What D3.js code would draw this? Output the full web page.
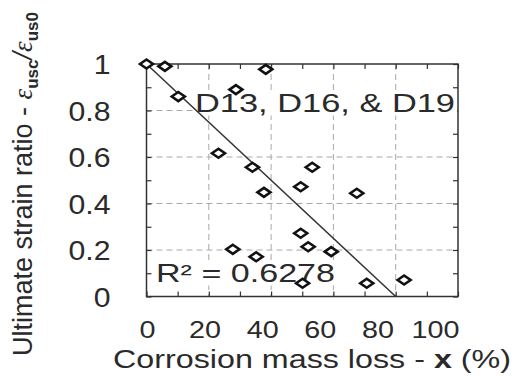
<!DOCTYPE html>
<html>
<head>
<meta charset="utf-8">
<script src="https://cdn.jsdelivr.net/npm/d3@7"></script>
<style>
  html, body { margin: 0; padding: 0; background: #fff; }
  svg { display: block; font-family: "Liberation Sans", Arial, sans-serif; }
</style>
</head>
<body>
<svg id="chart" width="517" height="376"></svg>
<script>
// ---- data ----
const massLoss = [0, 5.9, 38.3, 10.2, 28.7, 23.1, 34.0, 53.2, 49.5, 37.7, 67.5, 49.5, 51.9, 27.7, 35.2, 59.3, 50.1, 70.7, 82.7];
const strainRatio = [1.0, 0.99, 0.977, 0.86, 0.89, 0.616, 0.556, 0.556, 0.472, 0.448, 0.444, 0.272, 0.214, 0.203, 0.171, 0.193, 0.057, 0.057, 0.071];
const trendIntercept = 1.0;
const trendSlope = -0.0125;
const xTickLabels = [0, 20, 40, 60, 80, 100];
const yTickLabels = [0, 0.2, 0.4, 0.6, 0.8, 1];
const seriesLabel = "D13, D16, & D19";
const r2Label = "R\u00B2 = 0.6278";

// ---- layout ----
const svg = d3.select("#chart");
svg.append("rect").attr("width", 517).attr("height", 376).attr("fill", "#fff");
const x = d3.scaleLinear().domain([0, 100]).range([146.5, 458]);
const y = d3.scaleLinear().domain([0, 1]).range([296.5, 64]);
const xLab = d3.scaleLinear().domain([0, 100]).range([147, 435]);
const sx = 1.25;
const textColor = "#2a2a2a";

// grid
const grid = svg.append("g");
grid.selectAll("line.gx").data([20, 40, 60, 80]).join("line")
  .attr("x1", d => x(d)).attr("x2", d => x(d)).attr("y1", y(1)).attr("y2", y(0))
  .attr("stroke", "#a8a8a8").attr("stroke-width", 1).attr("stroke-dasharray", "6,4");
grid.selectAll("line.gy").data([0.2, 0.4, 0.6, 0.8]).join("line")
  .attr("y1", d => y(d)).attr("y2", d => y(d)).attr("x1", x(0)).attr("x2", x(100))
  .attr("stroke", "#a8a8a8").attr("stroke-width", 1).attr("stroke-dasharray", "6,4");

// inward minor ticks on all four sides
const xt = d3.range(0, 101, 10), yt = d3.range(0, 1.0001, 0.1);
function tickAxis(axis, transform) {
  const g = svg.append("g").attr("transform", transform).call(axis);
  g.select(".domain").remove();
  g.selectAll(".tick line").attr("stroke", "#333").attr("stroke-width", 1.2);
  g.selectAll("text").remove();
}
tickAxis(d3.axisBottom(x).tickValues(xt).tickSize(-5), `translate(0,${y(0)})`);
tickAxis(d3.axisTop(x).tickValues(xt).tickSize(-5), `translate(0,${y(1)})`);
tickAxis(d3.axisLeft(y).tickValues(yt).tickSize(-5), `translate(${x(0)},0)`);
tickAxis(d3.axisRight(y).tickValues(yt).tickSize(-5), `translate(${x(100)},0)`);

// frame
svg.append("rect").attr("x", x(0)).attr("y", y(1)).attr("width", x(100) - x(0)).attr("height", y(0) - y(1))
  .attr("fill", "none").attr("stroke", "#333").attr("stroke-width", 1.5);

// tick labels
const gx = svg.append("g").attr("transform", "translate(0,320)")
  .call(d3.axisBottom(xLab).tickValues(xTickLabels).tickSize(0).tickPadding(0).tickFormat(d3.format("d")));
gx.select(".domain").remove();
gx.selectAll("text").attr("font-size", 23).attr("fill", textColor).attr("font-family", "Liberation Sans, Arial, sans-serif")
  .attr("dy", "0.8em").attr("transform", `scale(${sx},1)`);

const gy = svg.append("g").attr("transform", `translate(${x(0)},0)`)
  .call(d3.axisLeft(y).tickValues(yTickLabels).tickSize(0).tickPadding(0).tickFormat(d => d3.format("")(d)));
gy.select(".domain").remove();
gy.selectAll("text").attr("font-size", 27).attr("fill", textColor).attr("font-family", "Liberation Sans, Arial, sans-serif")
  .attr("x", -36 / 1.12).attr("dy", "0.36em").attr("transform", `scale(1.12,1)`);

// annotation labels with white backgrounds
function annot(txt, x0, base, len, fs) {
  const g = svg.append("g");
  g.append("rect").attr("x", x0 - 2).attr("y", base - fs * 0.78).attr("width", len + 4).attr("height", fs * 0.92)
    .attr("fill", "#fff");
  g.append("text").attr("x", x0).attr("y", base).attr("font-size", fs).attr("fill", textColor)
    .attr("textLength", len).attr("lengthAdjust", "spacingAndGlyphs").text(txt);
}
annot(seriesLabel, 195, 112, 260, 25);
annot(r2Label, 156, 282, 179, 25);

// trend line
const xEnd = (0 - trendIntercept) / trendSlope;
svg.append("line")
  .attr("x1", x(0)).attr("y1", y(trendIntercept))
  .attr("x2", x(xEnd)).attr("y2", y(trendIntercept + trendSlope * xEnd))
  .attr("stroke", "#333").attr("stroke-width", 1.5);

// diamond markers
const pts = massLoss.map((v, i) => [v, strainRatio[i]]);
svg.append("g").selectAll("path").data(pts).join("path")
  .attr("transform", d => `translate(${x(d[0])},${y(d[1])})`)
  .attr("d", "M-6.5,0L0,-4.5L6.5,0L0,4.5Z")
  .attr("fill", "#fff").attr("stroke", "#111").attr("stroke-width", 2.6).attr("stroke-linejoin", "miter");

// axis titles
svg.append("text").attr("x", 113).attr("y", 368).attr("font-size", 25).attr("fill", textColor)
  .attr("textLength", 398).attr("lengthAdjust", "spacingAndGlyphs")
  .call(t => {
    t.append("tspan").text("Corrosion mass loss - ");
    t.append("tspan").attr("font-weight", "bold").text("x");
    t.append("tspan").text(" (%)");
  });

const yt2 = svg.append("text").attr("transform", "translate(32,184) rotate(-90)")
  .attr("text-anchor", "middle").attr("font-size", 27).attr("fill", textColor);
yt2.append("tspan").text("Ultimate strain ratio - ");
yt2.append("tspan").attr("font-style", "italic").attr("font-family", "Liberation Serif, serif").text("\u03B5");
yt2.append("tspan").attr("font-weight", "bold").attr("font-size", 17).attr("dy", 6).text("usc");
yt2.append("tspan").attr("dy", -6).attr("font-style", "italic").text("/");
yt2.append("tspan").attr("font-style", "italic").attr("font-family", "Liberation Serif, serif").text("\u03B5");
yt2.append("tspan").attr("font-weight", "bold").attr("font-size", 17).attr("dy", 6).text("us0");
</script>
</body>
</html>
